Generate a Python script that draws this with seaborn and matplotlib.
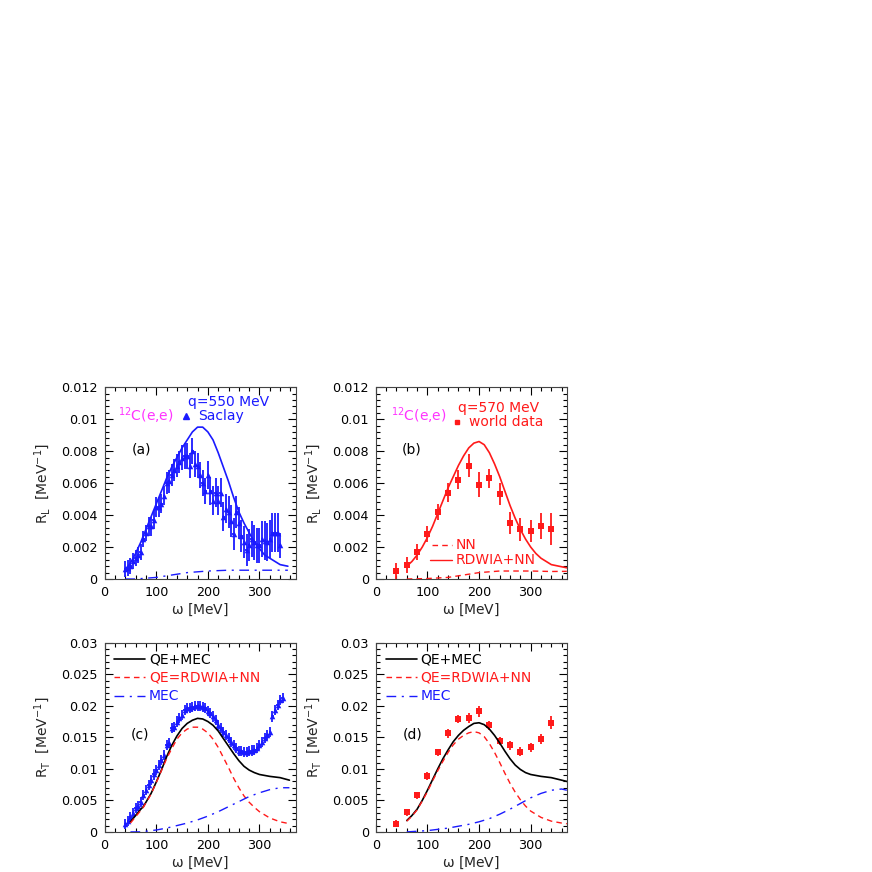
import numpy as np
import pandas as pd
import matplotlib
matplotlib.use('Agg')
import matplotlib.pyplot as plt
from matplotlib.ticker import MultipleLocator
import seaborn as sns

# ---- panel (a): R_L, q=550 MeV, Saclay data
sac_L_w = [40, 45, 50, 55, 60, 65, 70, 75, 80, 85, 90, 95, 100, 105, 110, 115, 120, 125,
           130, 135, 140, 145, 150, 155, 160, 165, 170, 175, 180, 185, 190, 195, 200, 205,
           210, 215, 220, 225, 230, 235, 240, 245, 250, 255, 260, 265, 270, 275, 280, 285,
           290, 295, 300, 305, 310, 315, 320, 325, 330, 335, 340]
sac_L = [0.0006, 0.0007, 0.0008, 0.0011, 0.0013, 0.0015, 0.0017, 0.0025, 0.0029, 0.0033,
         0.0033, 0.0037, 0.0045, 0.0045, 0.0047, 0.0052, 0.0060, 0.0061, 0.0065, 0.0068,
         0.0071, 0.0073, 0.0076, 0.0077, 0.0077, 0.0071, 0.0080, 0.0072, 0.0071, 0.0065,
         0.0060, 0.0055, 0.0065, 0.0055, 0.0049, 0.0054, 0.0049, 0.0054, 0.0039, 0.0044,
         0.0042, 0.0036, 0.0028, 0.0042, 0.0035, 0.0027, 0.0023, 0.0018, 0.0021, 0.0025,
         0.0023, 0.0021, 0.0021, 0.0025, 0.0024, 0.0023, 0.0025, 0.0029, 0.0029, 0.0029,
         0.0021]
sac_L_err = [0.0005, 0.0005, 0.0005, 0.0005, 0.0005, 0.0005, 0.0005, 0.0005, 0.0005, 0.0006,
             0.0006, 0.0006, 0.0006, 0.0006, 0.0006, 0.0006, 0.0007, 0.0007, 0.0007, 0.0007,
             0.0007, 0.0007, 0.0008, 0.0008, 0.0008, 0.0008, 0.0008, 0.0008, 0.0008, 0.0008,
             0.0008, 0.0008, 0.0009, 0.0009, 0.0009, 0.0009, 0.0009, 0.0009, 0.0009, 0.0009,
             0.0010, 0.0010, 0.0010, 0.0010, 0.0010, 0.0010, 0.0010, 0.0010, 0.0010, 0.0011,
             0.0011, 0.0011, 0.0011, 0.0011, 0.0012, 0.0012, 0.0012, 0.0012, 0.0012, 0.0012,
             0.0008]
thA_w = [40, 50, 60, 70, 80, 90, 100, 110, 120, 130, 140, 150, 160, 170, 180, 190, 200, 210,
         220, 230, 240, 250, 260, 270, 280, 290, 300, 310, 320, 330, 340, 355]
thA_full = [0.0006, 0.0010, 0.0016, 0.0023, 0.0031, 0.0039, 0.0047, 0.0055, 0.0063, 0.0070,
            0.0076, 0.0082, 0.0087, 0.0092, 0.0095, 0.0095, 0.0092, 0.0087, 0.0079, 0.0070,
            0.0061, 0.0051, 0.0042, 0.0035, 0.0029, 0.0023, 0.0019, 0.0015, 0.0013, 0.0011,
            0.0009, 0.0008]
thA_mec_w = [40, 60, 80, 100, 120, 140, 160, 180, 200, 240, 300, 355]
thA_mec = [0.0, 0.0, 0.00005, 0.0001, 0.0002, 0.0003, 0.0004, 0.00045, 0.0005, 0.00055,
           0.00055, 0.00055]

# ---- panel (b): R_L, q=570 MeV, world data
wd_w = [40, 60, 80, 100, 120, 140, 160, 180, 200, 220, 240, 260, 280, 300, 320, 340]
wd_L = [0.0005, 0.0009, 0.0017, 0.0028, 0.0042, 0.0054, 0.0062, 0.0071, 0.0059, 0.0063,
        0.0053, 0.0035, 0.0031, 0.0030, 0.0033, 0.0031]
wd_L_err = [0.0005, 0.0005, 0.0005, 0.0005, 0.0005, 0.0006, 0.0006, 0.0007, 0.0008, 0.0006,
            0.0007, 0.0007, 0.0007, 0.0007, 0.0008, 0.0010]
thB_w = [60, 70, 80, 90, 100, 110, 120, 130, 140, 150, 160, 170, 180, 190, 200, 210, 220,
         230, 240, 250, 260, 270, 280, 290, 300, 310, 320, 330, 340, 355, 370]
thB_full = [0.0008, 0.0011, 0.0015, 0.0020, 0.0026, 0.0033, 0.0041, 0.0049, 0.0057, 0.0064,
            0.0071, 0.0077, 0.0082, 0.0085, 0.0086, 0.0084, 0.0079, 0.0072, 0.0064, 0.0055,
            0.0046, 0.0038, 0.0031, 0.0025, 0.0020, 0.0016, 0.0013, 0.0011, 0.0009, 0.0008,
            0.0007]
thB_nn_w = [60, 100, 140, 160, 180, 200, 220, 240, 260, 300, 340, 370]
thB_nn = [0.0, 0.00003, 0.0001, 0.0002, 0.0003, 0.0004, 0.00045, 0.0005, 0.0005, 0.0005,
          0.00047, 0.00048]

# ---- panel (c): R_T, q=550 MeV, Saclay data
sac_T_w = list(range(40, 350, 5))
sac_T = [0.0013, 0.0017, 0.0023, 0.0030, 0.0038, 0.0041, 0.0048, 0.0059, 0.0067, 0.0075,
         0.0082, 0.0091, 0.0098, 0.0106, 0.0114, 0.0122, 0.0138, 0.0141, 0.0164, 0.0167,
         0.0175, 0.0180, 0.0186, 0.0193, 0.0196, 0.0196, 0.0198, 0.0200, 0.0200, 0.0200,
         0.0198, 0.0196, 0.0192, 0.0188, 0.0183, 0.0178, 0.0170, 0.0164, 0.0159, 0.0154,
         0.0149, 0.0143, 0.0138, 0.0133, 0.0128, 0.0128, 0.0126, 0.0126, 0.0128, 0.0129,
         0.0130, 0.0133, 0.0138, 0.0143, 0.0149, 0.0154, 0.0159, 0.0183, 0.0193, 0.0201,
         0.0209, 0.0212]
thC_w = [50, 60, 70, 75, 80, 90, 100, 110, 120, 130, 140, 150, 160, 170, 180, 190, 200,
         210, 220, 230, 240, 250, 260, 270, 280, 290, 300, 320, 340, 358]
thC_full = [0.0016, 0.0026, 0.0036, 0.0040, 0.0047, 0.0061, 0.0079, 0.0098, 0.0119, 0.0137,
            0.0152, 0.0164, 0.0172, 0.0177, 0.0180, 0.0179, 0.0175, 0.0169, 0.0160, 0.0148,
            0.0136, 0.0124, 0.0113, 0.0104, 0.0098, 0.0094, 0.0091, 0.0088, 0.0086, 0.0082]
thC_qe = [0.0014, 0.0024, 0.0034, 0.0039, 0.0046, 0.0060, 0.0078, 0.0097, 0.0116, 0.0132,
          0.0147, 0.0157, 0.0163, 0.0166, 0.0166, 0.0163, 0.0157, 0.0147, 0.0134, 0.0118,
          0.0102, 0.0085, 0.0070, 0.0057, 0.0047, 0.0039, 0.0032, 0.0022, 0.0016, 0.0013]
thC_mec_w = [50, 70, 80, 100, 120, 140, 160, 180, 200, 220, 240, 260, 280, 300, 320, 340, 358]
thC_mec = [0.0, 0.0, 0.0001, 0.0003, 0.0006, 0.0010, 0.0014, 0.0019, 0.0025, 0.0032, 0.0040,
           0.0048, 0.0056, 0.0062, 0.0067, 0.0070, 0.0070]

# ---- panel (d): R_T, q=570 MeV, world data
wd_T = [0.0013, 0.0031, 0.0058, 0.0089, 0.0126, 0.0156, 0.0179, 0.0181, 0.0191, 0.0169,
        0.0144, 0.0137, 0.0127, 0.0134, 0.0147, 0.0173]
wd_T_err = [0.0006, 0.0006, 0.0006, 0.0006, 0.0006, 0.0007, 0.0007, 0.0008, 0.0009, 0.0007,
            0.0007, 0.0007, 0.0007, 0.0007, 0.0008, 0.0010]
thD_w = [60, 70, 80, 90, 100, 110, 120, 130, 140, 150, 160, 170, 180, 190, 200, 210, 220,
         230, 240, 250, 260, 270, 280, 290, 300, 320, 340, 360, 370]
thD_full = [0.0018, 0.0026, 0.0036, 0.0050, 0.0066, 0.0083, 0.0100, 0.0116, 0.0130, 0.0143,
            0.0153, 0.0161, 0.0167, 0.0172, 0.0173, 0.0170, 0.0163, 0.0153, 0.0141, 0.0128,
            0.0116, 0.0106, 0.0099, 0.0094, 0.0091, 0.0088, 0.0086, 0.0082, 0.0080]
thD_qe = [0.0017, 0.0025, 0.0035, 0.0049, 0.0064, 0.0081, 0.0097, 0.0112, 0.0126, 0.0138,
          0.0147, 0.0153, 0.0157, 0.0159, 0.0157, 0.0151, 0.0140, 0.0126, 0.0110, 0.0093,
          0.0077, 0.0063, 0.0051, 0.0041, 0.0033, 0.0023, 0.0017, 0.0014, 0.0013]
thD_mec_w = [60, 80, 100, 120, 140, 160, 180, 200, 220, 240, 260, 280, 300, 320, 340, 360, 370]
thD_mec = [0.0, 0.0001, 0.0002, 0.0004, 0.0006, 0.0009, 0.0012, 0.0016, 0.0021, 0.0028,
           0.0036, 0.0045, 0.0054, 0.0061, 0.0066, 0.0068, 0.0066]

sns.set_style('ticks')
plt.rcParams['font.family'] = ['DejaVu Sans']
plt.rcParams['mathtext.default'] = 'regular'

BLUE = '#1a1aff'
RED = '#ff1a1a'
MAG = '#ff33ff'
DASHDOT = (0, (7, 4, 1.5, 4))
DASH = (0, (4, 3))
FS = 9.2     # tick labels
FT = 10.0    # annotations

fig = plt.figure(figsize=(8.72, 8.72), dpi=100)
ax_a = fig.add_axes([0.120, 0.336, 0.219, 0.220])
ax_b = fig.add_axes([0.431, 0.336, 0.219, 0.220])
ax_c = fig.add_axes([0.120, 0.046, 0.219, 0.217])
ax_d = fig.add_axes([0.431, 0.046, 0.219, 0.217])


def fmt(v):
    if abs(v) < 1e-12:
        return '0'
    return ('%.3f' % v).rstrip('0')


def style(ax, ymax, ymaj, ymin, ylab):
    ax.set_xlim(0, 370)
    ax.set_ylim(0, ymax)
    ax.xaxis.set_major_locator(MultipleLocator(100))
    ax.xaxis.set_minor_locator(MultipleLocator(20))
    ax.yaxis.set_minor_locator(MultipleLocator(ymin))
    ticks = np.arange(0, ymax + ymaj / 2, ymaj)
    ax.set_yticks(ticks)
    ax.set_yticklabels([fmt(v) for v in ticks])
    ax.tick_params(which='both', direction='in', top=True, right=True,
                   labelsize=FS, colors='black', width=0.8, pad=5)
    ax.tick_params(which='major', length=6)
    ax.tick_params(which='minor', length=3)
    for sp in ax.spines.values():
        sp.set_linewidth(0.8)
        sp.set_color('#444444')
    ax.set_xlabel(r'$\omega$ [MeV]', fontsize=FT, labelpad=2)
    ax.set_ylabel(ylab, fontsize=FT, labelpad=6)


def styled_line(ax, x, y, color, lw, ls='-'):
    sns.lineplot(x=x, y=y, color=color, lw=lw, ax=ax, zorder=4)
    ax.lines[-1].set_linestyle(ls)


lab_L = r'R$_{\rm L}$  [MeV$^{-1}$]'
lab_T = r'R$_{\rm T}$  [MeV$^{-1}$]'

# ---------- (a)
ax = ax_a
ax.errorbar(sac_L_w, sac_L, yerr=sac_L_err, xerr=2.5, fmt='none', ecolor=BLUE,
            elinewidth=1.3, capsize=0, zorder=2)
sns.scatterplot(x=sac_L_w, y=sac_L, marker='^', color=BLUE, s=16, linewidth=0, ax=ax, zorder=3)
styled_line(ax, thA_w, thA_full, BLUE, 1.2)
styled_line(ax, thA_mec_w, thA_mec, BLUE, 1.0, DASHDOT)
style(ax, 0.012, 0.002, 0.0004, lab_L)
ax.text(161, 0.0111, 'q=550 MeV', color=BLUE, fontsize=FT, va='center')
ax.plot([158], [0.0102], marker='^', color=BLUE, ms=4, ls='none')
ax.text(181, 0.0102, 'Saclay', color=BLUE, fontsize=FT, va='center')
ax.text(26, 0.0102, r'$^{12}$C(e,e)', color=MAG, fontsize=FT, va='center')
ax.text(52, 0.0081, '(a)', color='black', fontsize=FT, va='center')

# ---------- (b)
ax = ax_b
ax.errorbar(wd_w, wd_L, yerr=wd_L_err, fmt='none', ecolor=RED, elinewidth=1.3,
            capsize=0, zorder=2)
sns.scatterplot(x=wd_w, y=wd_L, marker='s', color=RED, s=16, linewidth=0, ax=ax, zorder=3)
styled_line(ax, thB_w, thB_full, RED, 1.2)
styled_line(ax, thB_nn_w, thB_nn, RED, 1.0, DASH)
style(ax, 0.012, 0.002, 0.0004, lab_L)
ax.text(160, 0.0107, 'q=570 MeV', color=RED, fontsize=FT, va='center')
ax.plot([158], [0.0098], marker='s', color=RED, ms=3.5, ls='none')
ax.text(181, 0.0098, 'world data', color=RED, fontsize=FT, va='center')
ax.text(30, 0.0102, r'$^{12}$C(e,e)', color=MAG, fontsize=FT, va='center')
ax.text(51, 0.0081, '(b)', color='black', fontsize=FT, va='center')
ax.plot([108, 148], [0.0021, 0.0021], color=RED, lw=1.0, ls=DASH)
ax.text(154, 0.0021, 'NN', color=RED, fontsize=FT, va='center')
ax.plot([105, 148], [0.0012, 0.0012], color=RED, lw=1.0)
ax.text(154, 0.0012, 'RDWIA+NN', color=RED, fontsize=FT, va='center')


def legend_T(ax):
    ax.plot([19, 79], [0.0274, 0.0274], color='black', lw=1.2)
    ax.text(86, 0.0274, 'QE+MEC', color='black', fontsize=FT, va='center')
    ax.plot([19, 79], [0.0245, 0.0245], color=RED, lw=1.0, ls=DASH)
    ax.text(86, 0.0245, 'QE=RDWIA+NN', color=RED, fontsize=FT, va='center')
    ax.plot([19, 79], [0.0216, 0.0216], color=BLUE, lw=1.0, ls=DASHDOT)
    ax.text(86, 0.0216, 'MEC', color=BLUE, fontsize=FT, va='center')


# ---------- (c)
ax = ax_c
ax.errorbar(sac_T_w, sac_T, yerr=0.0008, xerr=2.5, fmt='none', ecolor=BLUE,
            elinewidth=1.3, capsize=0, zorder=2)
sns.scatterplot(x=sac_T_w, y=sac_T, marker='^', color=BLUE, s=16, linewidth=0, ax=ax, zorder=3)
styled_line(ax, thC_w, thC_full, 'black', 1.2)
styled_line(ax, thC_w, thC_qe, RED, 1.0, DASH)
styled_line(ax, thC_mec_w, thC_mec, BLUE, 1.0, DASHDOT)
style(ax, 0.03, 0.005, 0.001, lab_T)
legend_T(ax)
ax.text(50, 0.0155, '(c)', color='black', fontsize=FT, va='center')

# ---------- (d)
ax = ax_d
ax.errorbar(wd_w, wd_T, yerr=wd_T_err, fmt='none', ecolor=RED, elinewidth=1.3,
            capsize=0, zorder=2)
sns.scatterplot(x=wd_w, y=wd_T, marker='s', color=RED, s=16, linewidth=0, ax=ax, zorder=3)
styled_line(ax, thD_w, thD_full, 'black', 1.2)
styled_line(ax, thD_w, thD_qe, RED, 1.0, DASH)
styled_line(ax, thD_mec_w, thD_mec, BLUE, 1.0, DASHDOT)
style(ax, 0.03, 0.005, 0.001, lab_T)
legend_T(ax)
ax.text(52, 0.0154, '(d)', color='black', fontsize=FT, va='center')

fig.savefig('out.png', dpi=100, facecolor='white')
